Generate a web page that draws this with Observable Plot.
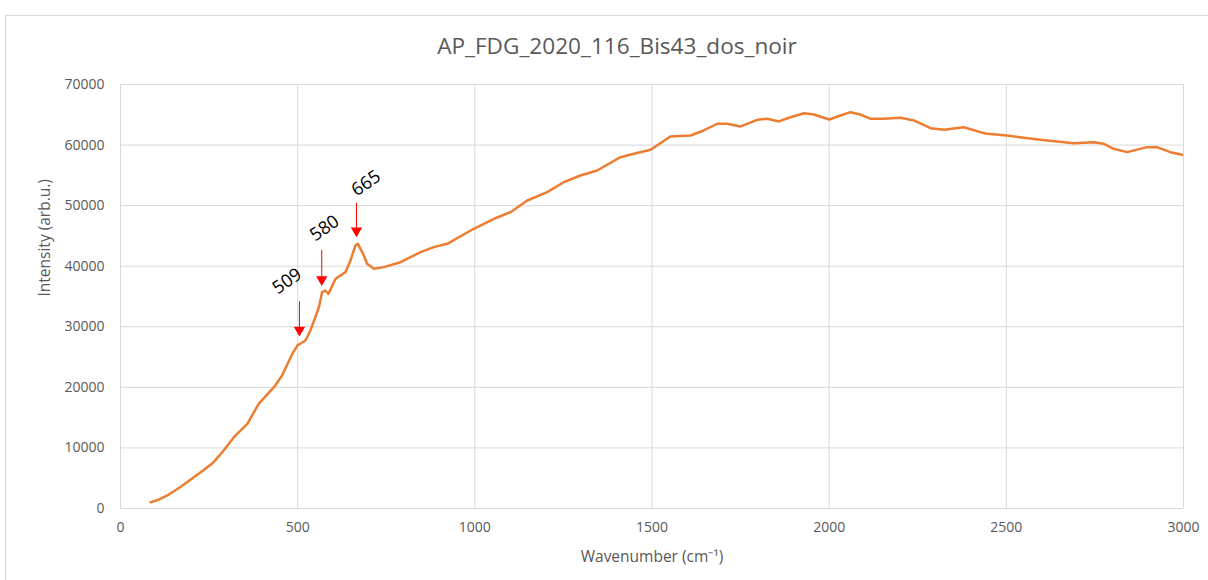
<!DOCTYPE html>
<html>
<head>
<meta charset="utf-8">
<script src="https://cdn.jsdelivr.net/npm/d3@7"></script>
<script src="https://cdn.jsdelivr.net/npm/@observablehq/plot@0.6"></script>
<style>
  html, body { margin: 0; padding: 0; background: #fff; width: 1208px; height: 580px; overflow: hidden; }
  #frame { position: absolute; left: 5px; top: 15px; width: 1400px; height: 800px; border: 1px solid #d9d9d9; }
  #title { position: absolute; left: 0; top: 31px; width: 1234px; text-align: center; font-family: "Open Sans", sans-serif; font-size: 22.6px; color: #595959; line-height: 30px; }
  #chart { position: absolute; left: 0; top: 66px; }
</style>
</head>
<body>
<div id="frame"></div>
<div id="title">AP_FDG_2020_116_Bis43_dos_noir</div>
<div id="chart"></div>
<script>
const titleText = "AP_FDG_2020_116_Bis43_dos_noir";
const xLabel = "Wavenumber (cm⁻¹)";
const yLabel = "Intensity (arb.u.)";
const xTicks = [0, 500, 1000, 1500, 2000, 2500, 3000];
const yTicks = [0, 10000, 20000, 30000, 40000, 50000, 60000, 70000];

const wavenumber = [85,105,132,170,207,235,263,290,320,358,390,433,456,485,499,522,536,560,569,578,587,607,635,649,663,670,687,696,715,743,790,847,884,922,997,1054,1101,1148,1204,1251,1298,1345,1411,1449,1496,1552,1609,1646,1684,1712,1750,1797,1825,1858,1891,1929,1957,2000,2032,2060,2088,2117,2154,2202,2239,2286,2324,2380,2427,2446,2502,2549,2596,2691,2747,2775,2803,2841,2897,2925,2963,2996];
const intensity = [1040,1400,2150,3600,5170,6350,7650,9500,11780,13980,17280,20030,21960,25540,26900,27740,29390,33230,35710,35990,35440,37920,39020,40940,43420,43700,41770,40400,39570,39850,40660,42320,43150,43700,46180,47830,48920,50850,52220,53870,54980,55800,58000,58560,59220,61420,61580,62410,63520,63520,63080,64170,64340,63900,64600,65260,65050,64220,64880,65430,65050,64330,64330,64500,64060,62790,62520,62950,62130,61850,61580,61200,60870,60310,60480,60210,59390,58830,59660,59660,58830,58400];

const peakLabels = ["509", "580", "665"];
const arrowX = [505, 568, 666];
const arrowTop = [34230, 42700, 50470];
const arrowHead = [29470, 37810, 45850];
const labelX = [470, 576, 693];
const labelY = [37530, 46280, 53700];

const spectrum = wavenumber.map((w, i) => ({w, v: intensity[i]}));
const peaks = peakLabels.map((t, i) => ({t, x: arrowX[i], y1: arrowTop[i], y2: arrowHead[i], lx: labelX[i], ly: labelY[i]}));

const font = "'Open Sans', sans-serif";
const chart = Plot.plot({
  width: 1208,
  height: 514,
  marginLeft: 120,
  marginRight: 25,
  marginTop: 18,
  marginBottom: 72,
  style: { fontFamily: font, fontSize: "13px", color: "#595959", background: "transparent", overflow: "visible" },
  x: { domain: [0, 3000] },
  y: { domain: [0, 70000] },
  marks: [
    Plot.gridX(xTicks, { stroke: "#d9d9d9", strokeOpacity: 1, strokeWidth: 1 }),
    Plot.gridY(yTicks, { stroke: "#d9d9d9", strokeOpacity: 1, strokeWidth: 1 }),
    Plot.axisX(xTicks, { tickSize: 0, tickPadding: 14, fontSize: 14, tickFormat: d => String(d), label: null }),
    Plot.axisY(yTicks, { tickSize: 0, tickPadding: 16, fontSize: 14, tickFormat: d => String(d), label: null }),
    Plot.text([xLabel], { frameAnchor: "bottom", dy: 53, text: d => d, fontSize: 15.5, fill: "#595959" }),
    Plot.text([yLabel], { frameAnchor: "left", dx: -75, rotate: -90, text: d => d, fontSize: 15.5, fill: "#595959" }),
    Plot.lineY(spectrum, { x: "w", y: "v", stroke: "#ED7D31", strokeWidth: 2.5, curve: "linear" }),
    Plot.link(peaks, { x1: "x", x2: "x", y1: "y1", y2: "y2", stroke: "#ff0000", strokeWidth: 1 }),
    Plot.dot(peaks, { x: "x", y: "y2", symbol: "triangle", rotate: 180, r: 4.2, fill: "#ff0000", stroke: "none" }),
    Plot.text(peaks, { x: "lx", y: "ly", text: "t", rotate: -35, fontSize: 18, fill: "#000", fontFamily: "'Open Sans', sans-serif" })
  ]
});
document.getElementById("chart").appendChild(chart);
</script>
</body>
</html>
